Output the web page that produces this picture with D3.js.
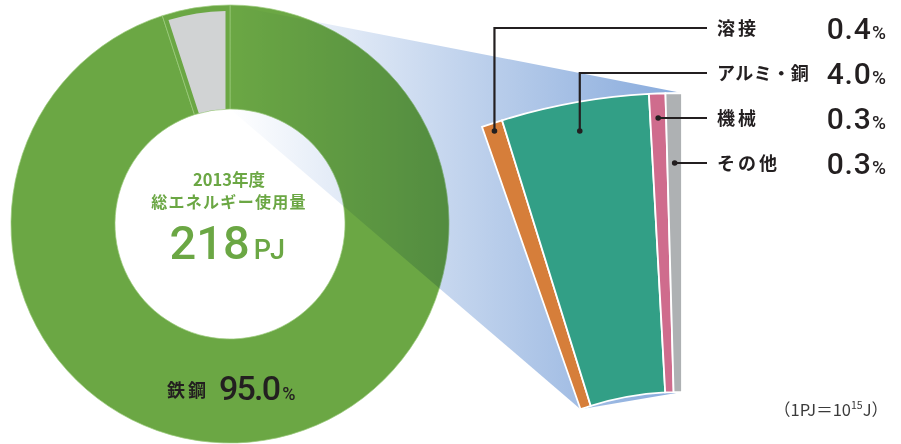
<!DOCTYPE html>
<html>
<head>
<meta charset="utf-8">
<script src="https://cdn.jsdelivr.net/npm/d3@7"></script>
<style>
  html, body { margin: 0; padding: 0; background: #fff; }
  svg { display: block; }
</style>
</head>
<body>
<svg id="chart" width="901" height="444"></svg>
<script>
// ---------------- data ----------------
const mainCategories = ["鉄鋼", "その他"];
const mainValues = [95.0, 5.0];
const detailCategories = ["溶接", "アルミ・銅", "機械", "その他"];
const detailValues = [0.4, 4.0, 0.3, 0.3];
const totalLabel = ["2013年度", "総エネルギー使用量"];
const totalValue = 218;
const totalUnit = "PJ";

// ---------------- layout ----------------
const svg = d3.select("#chart");
const cx = 230, cy = 224, R = 219, r = 115;
const zx = 682, zy = 700, zR = 607, zr = 308;
const zStart = -19.24 * Math.PI / 180, zEnd = 0;

const green = "#6ba744";
const mainColors = [green, green];
const detailColors = ["#d67e3a", "#329f86", "#cf6c8d", "#aeb1b3"];
const ink = "#231f20";
const cjk = "'Noto Sans CJK JP', 'Noto Sans', sans-serif";
const num = "Roboto, 'Noto Sans', sans-serif";

const defs = svg.append("defs");
const grad = defs.append("linearGradient")
  .attr("id", "zoomGrad").attr("gradientUnits", "userSpaceOnUse")
  .attr("x1", cx).attr("y1", 0).attr("x2", zx).attr("y2", 0);
grad.append("stop").attr("offset", 0).attr("stop-color", "#ffffff");
grad.append("stop").attr("offset", 1).attr("stop-color", "#87aadc");

// ---------------- main donut ----------------
const pie = d3.pie().sort(null).startAngle(0).endAngle(2 * Math.PI);
const mainArcs = pie(mainValues);
const arc = d3.arc().innerRadius(r).outerRadius(R);
const g = svg.append("g").attr("transform", `translate(${cx},${cy})`);
g.selectAll("path.main").data(mainArcs).join("path")
  .attr("class", "main")
  .attr("d", arc)
  .attr("fill", (d, i) => mainColors[i])
  .attr("stroke", "#9ccb7c")
  .attr("stroke-width", 0.7);

// inset grey for the "other" share
const insetArc = d3.arc().innerRadius(r).outerRadius(R - 6)
  .padRadius(100).padAngle(0.09);
g.append("path")
  .attr("d", insetArc(mainArcs[1]))
  .attr("fill", "#d1d3d4");

// ---------------- detail sector ----------------
const a0 = mainArcs[1].endAngle; // 2π == 0°
const polar = (ox, oy, rad, ang) => [ox + rad * Math.sin(ang), oy - rad * Math.cos(ang)];
const poly = [
  polar(cx, cy, R, a0),
  polar(zx, zy, zR, zEnd),
  polar(zx, zy, zr, zEnd),
  polar(zx, zy, zr, zStart),
  polar(cx, cy, r, a0)
];
svg.append("path")
  .attr("d", "M" + poly.map(p => p.join(",")).join("L") + "Z")
  .attr("fill", "url(#zoomGrad)")
  .style("mix-blend-mode", "multiply");

const widthScale = d3.scalePow().exponent(0.85).domain([0, 1]).range([0, 1]);
const zPie = d3.pie().sort(null).value(d => widthScale(d)).startAngle(zStart).endAngle(zEnd);
const detailArcs = zPie(detailValues);
const zArc = d3.arc().innerRadius(zr).outerRadius(zR);
const zg = svg.append("g").attr("transform", `translate(${zx},${zy})`);
zg.selectAll("path").data(detailArcs).join("path")
  .attr("d", zArc)
  .attr("fill", (d, i) => detailColors[i])
  .attr("stroke", "#fff")
  .attr("stroke-width", 1.8)
  .attr("stroke-linejoin", "miter");

// ---------------- leaders & labels ----------------
const rowY = [28, 73, 118, 163];
const elbowDotY = 131;
const lineEndX = 707, labelX = 717, valueX = 886;
detailArcs.forEach((d, i) => {
  const mid = (d.startAngle + d.endAngle) / 2;
  const dotY = i < 2 ? elbowDotY : rowY[i];
  const rad = (zy - dotY) / Math.cos(mid);
  const [dx, dy] = polar(zx, zy, rad, mid);
  const pts = i < 2 ? [[dx, dy], [dx, rowY[i]], [lineEndX, rowY[i]]] : [[dx, dy], [lineEndX, rowY[i]]];
  svg.append("path")
    .attr("d", d3.line()(pts))
    .attr("fill", "none").attr("stroke", ink).attr("stroke-width", 2.2);
  svg.append("circle").attr("cx", dx).attr("cy", dy).attr("r", 2.8).attr("fill", ink);

  svg.append("text")
    .attr("x", labelX).attr("y", rowY[i] + 6.5)
    .attr("font-family", cjk).attr("font-weight", 700)
    .attr("font-size", 18).attr("letter-spacing", i === 1 ? 0.5 : 3)
    .attr("fill", ink)
    .text(detailCategories[i]);

  const t = svg.append("text")
    .attr("x", valueX).attr("y", rowY[i] + 10.5)
    .attr("text-anchor", "end")
    .attr("font-family", num).attr("font-weight", 500)
    .attr("fill", ink);
  t.append("tspan").attr("font-size", 30).attr("letter-spacing", 0.8).text(detailValues[i].toFixed(1));
  t.append("tspan").attr("font-size", 19).attr("dx", 0.5).text("%");
});

// ---------------- centre text ----------------
svg.append("text")
  .attr("x", cx - 1).attr("y", 186).attr("text-anchor", "middle")
  .attr("font-family", cjk).attr("font-weight", 700).attr("font-size", 16.5)
  .attr("fill", green).text(totalLabel[0]);
svg.append("text")
  .attr("x", cx - 1).attr("y", 208).attr("text-anchor", "middle")
  .attr("font-family", cjk).attr("font-weight", 700).attr("font-size", 16)
  .attr("letter-spacing", 1.3)
  .attr("fill", green).text(totalLabel[1]);
const tv = svg.append("text")
  .attr("x", cx - 2).attr("y", 259).attr("text-anchor", "middle")
  .attr("font-family", num).attr("font-weight", 500).attr("fill", green);
tv.append("tspan").attr("font-size", 47).text(totalValue);
tv.append("tspan").attr("font-size", 27).attr("dx", 4).attr("letter-spacing", 1.5).text(totalUnit);

// ---------------- steel label ----------------
svg.append("text")
  .attr("x", 167).attr("y", 396.5)
  .attr("font-family", cjk).attr("font-weight", 700).attr("font-size", 18)
  .attr("letter-spacing", 3).attr("fill", ink)
  .text(mainCategories[0]);
const sv = svg.append("text")
  .attr("x", 219).attr("y", 400)
  .attr("font-family", num).attr("font-weight", 500).attr("fill", ink);
sv.append("tspan").attr("font-size", 34).attr("letter-spacing", -1.8).text(mainValues[0].toFixed(1));
sv.append("tspan").attr("font-size", 18).attr("dx", 3).text("%");

// ---------------- footnote ----------------
const fn = svg.append("text")
  .attr("x", 888).attr("y", 416).attr("text-anchor", "end")
  .attr("font-family", cjk).attr("font-size", 16.5).attr("fill", "#3a3a3a");
fn.append("tspan").text("（1PJ＝10");
fn.append("tspan").attr("font-size", 10.5).attr("dy", -7).text("15");
fn.append("tspan").attr("dy", 7).text("J）");
</script>
</body>
</html>
